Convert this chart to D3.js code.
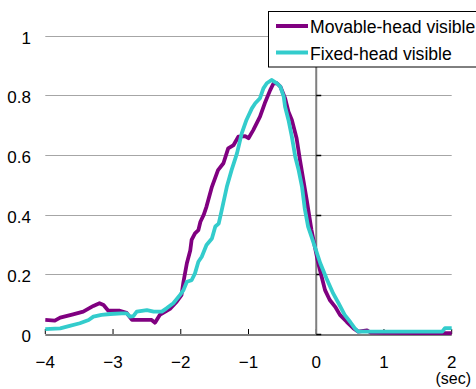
<!DOCTYPE html>
<html>
<head>
<meta charset="utf-8">
<script src="https://cdn.jsdelivr.net/npm/d3@7"></script>
<style>
  body { margin: 0; background: #fff; }
  text { font-family: "Liberation Sans", Arial, sans-serif; fill: #000; }
</style>
</head>
<body>
<svg id="chart" width="476" height="389"></svg>
<script>
const seriesNames = ["Movable-head visible", "Fixed-head visible"];
const seriesColors = ["#800080", "#33cccc"];

// time (sec) and value
const movableTime = [-4, -3.86, -3.78, -3.59, -3.44, -3.29, -3.2, -3.14, -3.07, -2.9, -2.8, -2.72, -2.55, -2.43, -2.38, -2.31, -2.16, -2.06, -1.99, -1.96, -1.91, -1.86, -1.84, -1.79, -1.74, -1.71, -1.66, -1.62, -1.54, -1.45, -1.37, -1.3, -1.22, -1.15, -1.05, -1.0, -0.93, -0.83, -0.76, -0.68, -0.63, -0.58, -0.53, -0.46, -0.41, -0.36, -0.29, -0.24, -0.19, -0.14, -0.07, -0.02, 0.03, 0.08, 0.13, 0.2, 0.28, 0.35, 0.45, 0.55, 0.62, 0.75, 0.8, 1.0, 1.5, 1.9, 2.0];
const movableValue = [0.047, 0.045, 0.055, 0.066, 0.075, 0.094, 0.103, 0.097, 0.078, 0.078, 0.071, 0.047, 0.047, 0.047, 0.038, 0.064, 0.084, 0.108, 0.13, 0.175, 0.237, 0.28, 0.315, 0.337, 0.348, 0.376, 0.4, 0.427, 0.493, 0.549, 0.572, 0.622, 0.633, 0.661, 0.663, 0.656, 0.683, 0.728, 0.773, 0.817, 0.84, 0.84, 0.829, 0.79, 0.745, 0.717, 0.656, 0.583, 0.516, 0.449, 0.348, 0.292, 0.237, 0.192, 0.147, 0.114, 0.091, 0.064, 0.041, 0.019, 0.008, 0.012, 0.005, 0.004, 0.003, 0.003, 0.003];

const fixedTime = [-4, -3.78, -3.64, -3.49, -3.36, -3.29, -3.17, -3.04, -2.87, -2.8, -2.75, -2.7, -2.65, -2.5, -2.4, -2.28, -2.21, -2.11, -2.01, -1.96, -1.91, -1.84, -1.79, -1.74, -1.69, -1.62, -1.54, -1.49, -1.44, -1.4, -1.32, -1.25, -1.17, -1.1, -1.03, -0.95, -0.9, -0.83, -0.78, -0.73, -0.66, -0.58, -0.53, -0.48, -0.46, -0.41, -0.36, -0.31, -0.26, -0.21, -0.17, -0.12, -0.07, -0.02, 0.06, 0.15, 0.25, 0.33, 0.42, 0.5, 0.57, 0.62, 1.0, 1.5, 1.86, 1.9, 2.0];
const fixedValue = [0.016, 0.019, 0.027, 0.036, 0.047, 0.058, 0.064, 0.067, 0.069, 0.069, 0.058, 0.06, 0.075, 0.08, 0.075, 0.075, 0.086, 0.103, 0.131, 0.147, 0.175, 0.18, 0.203, 0.242, 0.259, 0.298, 0.32, 0.36, 0.37, 0.41, 0.493, 0.549, 0.605, 0.672, 0.717, 0.756, 0.773, 0.79, 0.823, 0.84, 0.851, 0.84, 0.829, 0.795, 0.761, 0.717, 0.661, 0.594, 0.549, 0.493, 0.421, 0.36, 0.326, 0.292, 0.237, 0.187, 0.136, 0.103, 0.064, 0.041, 0.019, 0.008, 0.008, 0.008, 0.008, 0.02, 0.02];

const xTicks = [-4, -3, -2, -1, 0, 1, 2];
const yTicks = [0, 0.2, 0.4, 0.6, 0.8, 1];

const svg = d3.select("#chart");

const x = d3.scaleLinear().domain([-4, 2]).range([45.3, 451.7]);
const y = d3.scaleLinear().domain([0, 1]).range([334, 35.5]);

const fmt = v => String(v).replace("-", "\u2212");

// gridlines
svg.append("g")
  .selectAll("line")
  .data(yTicks.filter(d => d > 0))
  .join("line")
  .attr("x1", x(-4)).attr("x2", x(2))
  .attr("y1", d => Math.round(y(d)) + 0.5).attr("y2", d => Math.round(y(d)) + 0.5)
  .attr("stroke", "#a6a6a6")
  .attr("stroke-width", 1);

// y tick labels
svg.append("g")
  .selectAll("text")
  .data(yTicks)
  .join("text")
  .attr("x", 31)
  .attr("y", d => y(d) + 8)
  .attr("text-anchor", "end")
  .style("font-size", "17px")
  .text(d => fmt(d));

// x axis line + ticks
svg.append("line")
  .attr("x1", x(-4)).attr("x2", x(2))
  .attr("y1", y(0) + 1).attr("y2", y(0) + 1)
  .attr("stroke", "#7f7f7f").attr("stroke-width", 2);

svg.append("g")
  .selectAll("line")
  .data(xTicks)
  .join("line")
  .attr("x1", d => x(d)).attr("x2", d => x(d))
  .attr("y1", y(0)).attr("y2", y(0) - 5)
  .attr("stroke", "#000").attr("stroke-width", 1);

svg.append("g")
  .selectAll("text")
  .data(xTicks)
  .join("text")
  .attr("x", d => x(d))
  .attr("y", 367.5)
  .attr("text-anchor", "middle")
  .style("font-size", "17px")
  .text(d => fmt(d));

svg.append("text")
  .attr("x", 471).attr("y", 384)
  .attr("text-anchor", "end")
  .style("font-size", "16px")
  .text("(sec)");

// vertical axis at x = 0
svg.append("line")
  .attr("x1", x(0)).attr("x2", x(0))
  .attr("y1", y(1)).attr("y2", y(0) + 2)
  .attr("stroke", "#7f7f7f").attr("stroke-width", 2);

svg.append("g")
  .selectAll("line")
  .data(yTicks)
  .join("line")
  .attr("x1", x(0)).attr("x2", x(0) + 5)
  .attr("y1", d => Math.round(y(d)) + 0.5).attr("y2", d => Math.round(y(d)) + 0.5)
  .attr("stroke", "#000").attr("stroke-width", 1.5);

// series
const line = d3.line()
  .x(d => x(d[0]))
  .y(d => y(d[1]));

const series = [
  d3.zip(movableTime, movableValue),
  d3.zip(fixedTime, fixedValue)
];

svg.append("g")
  .selectAll("path")
  .data(series)
  .join("path")
  .attr("d", line)
  .attr("fill", "none")
  .attr("stroke", (d, i) => seriesColors[i])
  .attr("stroke-width", 3.8)
  .attr("stroke-linejoin", "round");

// legend
const legend = svg.append("g");
legend.append("rect")
  .attr("x", 268.5).attr("y", 11.5)
  .attr("width", 220).attr("height", 55.5)
  .attr("fill", "#fff")
  .attr("stroke", "#000").attr("stroke-width", 1);

const rows = legend.selectAll("g.row")
  .data(seriesNames)
  .join("g")
  .attr("class", "row")
  .attr("transform", (d, i) => `translate(0, ${26 + i * 26.5})`);

rows.append("line")
  .attr("x1", 276).attr("x2", 308)
  .attr("y1", 0).attr("y2", 0)
  .attr("stroke", (d, i) => seriesColors[i])
  .attr("stroke-width", 4);

rows.append("text")
  .attr("x", 310)
  .attr("y", 7)
  .style("font-size", "17.6px")
  .text(d => d);
</script>
</body>
</html>
